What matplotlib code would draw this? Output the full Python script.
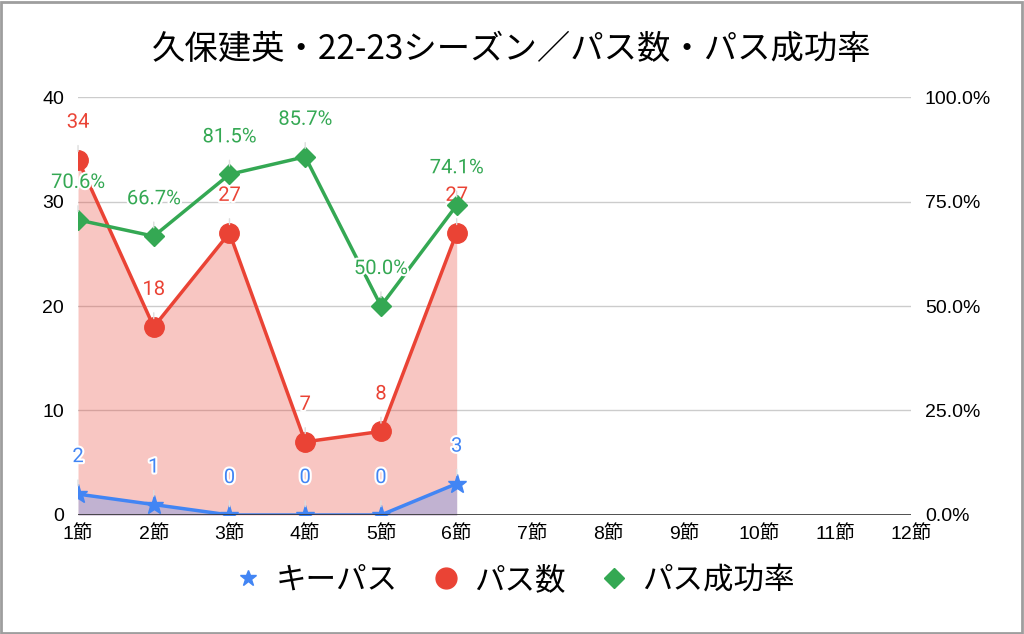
import matplotlib
matplotlib.use("Agg")
import matplotlib.pyplot as plt
import matplotlib.patheffects as pe
from matplotlib.lines import Line2D
from matplotlib.patches import Rectangle

plt.rcParams['font.family'] = ['Noto Sans CJK JP', 'DejaVu Sans']

# data
rounds = ["1節", "2節", "3節", "4節", "5節", "6節", "7節", "8節", "9節", "10節", "11節", "12節"]
key_passes = [2, 1, 0, 0, 0, 3]
passes = [34, 18, 27, 7, 8, 27]
pass_rate = [70.6, 66.7, 81.5, 85.7, 50.0, 74.1]

BLUE = '#4285F4'
RED = '#EA4335'
GREEN = '#34A853'

x_all = list(range(1, len(rounds) + 1))
x = x_all[:len(passes)]

fig = plt.figure(figsize=(10.24, 6.34), dpi=100)
ax = fig.add_axes([0.0762, 0.1877, 0.8135, 0.6593])
ax2 = ax.twinx()

# areas
ax.fill_between(x, 0, passes, color=RED, alpha=0.3, linewidth=0, zorder=1)
ax.fill_between(x, 0, key_passes, color=BLUE, alpha=0.3, linewidth=0, zorder=2)
ax.plot(x, passes, color=RED, lw=2.5, marker='o', markersize=14, zorder=4)
ax.plot(x, key_passes, color=BLUE, lw=2.5, marker='*', markersize=14, zorder=5)

ax2.plot(x, [v / 100 for v in pass_rate], color=GREEN, lw=2.5, marker='D',
         markersize=10, zorder=4)

label_fam = ['Roboto', 'DejaVu Sans']
stroke = [pe.withStroke(linewidth=3, foreground='white')]


def add_labels(axis, xs, ys, texts, color):
    for xi, yi, t in zip(xs, ys, texts):
        axis.annotate(t, (xi, yi), xytext=(0, 27), textcoords='offset points',
                      ha='center', va='center', fontsize=14.5, color=color,
                      family=label_fam, path_effects=stroke, zorder=10,
                      arrowprops=dict(arrowstyle='-', color='#dddddd', lw=1,
                                      shrinkA=8, shrinkB=6))


add_labels(ax, x, passes, [str(v) for v in passes], RED)
add_labels(ax, x, key_passes, [str(v) for v in key_passes], BLUE)
add_labels(ax2, x, [v / 100 for v in pass_rate], [f"{v:.1f}%" for v in pass_rate], GREEN)

ax.set_xlim(1, 12)
ax.set_ylim(0, 40)
ax2.set_ylim(0, 1.0)
ax.set_yticks([0, 10, 20, 30, 40])
ax2.set_yticks([0, 0.25, 0.5, 0.75, 1.0])
ax2.set_yticklabels(["0.0%", "25.0%", "50.0%", "75.0%", "100.0%"])
ax.set_xticks(x_all)
ax.set_xticklabels(rounds)

tick_fam = ['Liberation Sans', 'Noto Sans CJK JP']
for lab in ax.get_yticklabels() + ax2.get_yticklabels():
    lab.set_family(tick_fam)
    lab.set_fontsize(14)
for lab in ax.get_xticklabels():
    lab.set_family(tick_fam)
    lab.set_fontsize(14)

ax.tick_params(axis='both', length=0, pad=10)
ax.tick_params(axis='x', pad=7)
ax2.tick_params(axis='y', length=0, pad=10)

ax.grid(axis='y', color='#cccccc', lw=1)
ax.set_axisbelow(True)
for a in (ax, ax2):
    for s in a.spines.values():
        s.set_visible(False)
ax.axhline(0, color='#333333', lw=1.2, zorder=6)

fig.suptitle("久保建英・22-23シーズン／パス数・パス成功率", fontsize=24, y=0.95)

handles = [
    Line2D([], [], color=BLUE, marker='*', linestyle='None', markersize=12),
    Line2D([], [], color=RED, marker='o', linestyle='None', markersize=15),
    Line2D([], [], color=GREEN, marker='D', linestyle='None', markersize=10),
]
fig.legend(handles, ["キーパス", "パス数", "パス成功率"], loc='center',
           bbox_to_anchor=(0.5, 0.085), ncol=3, frameon=False, fontsize=22,
           handletextpad=0.3, columnspacing=1.0, handlelength=1.2)

fig.patches.append(Rectangle((0.001, 0.002), 0.997, 0.995, transform=fig.transFigure,
                             fill=False, edgecolor='#9e9e9e', lw=2))

fig.savefig("out.png", dpi=100)
